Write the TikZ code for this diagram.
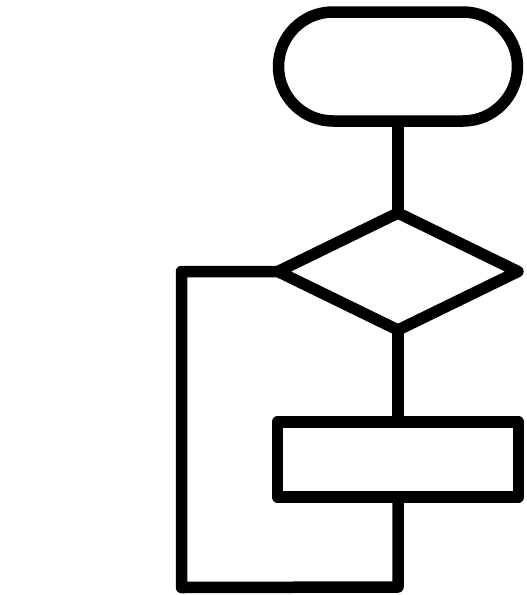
\documentclass[tikz,border=0pt]{standalone}
\usetikzlibrary{positioning,shapes.geometric,shapes.misc}
\tikzset{
  terminal/.style={draw, rounded rectangle, minimum width=239pt, minimum height=109pt,
                   inner sep=0pt, outer sep=0pt},
  decision/.style={draw, diamond, minimum width=240pt, minimum height=117pt,
                   inner sep=0pt, outer sep=0pt},
  process/.style={draw, rectangle, minimum width=241pt, minimum height=75pt,
                  inner sep=0pt, outer sep=0pt},
  flow/.style={draw, line cap=butt},
}

\begin{document}
\begin{tikzpicture}[x=1pt, y=-1pt, line width=11.5pt, line join=round, node distance=92pt]
  \useasboundingbox (0,0) rectangle (527,595);
  \node[terminal] (start) at (398,66.5) {};
  \node[decision, below=of start] (test) {};
  \node[process, below=of test] (work) {};
  \coordinate[below=90pt of work] (down);
  \coordinate (corner) at (181.5,587.5);
  \draw[flow] (start) -- (test);
  \draw[flow] (test) -- (work);
  \draw[flow] (work.south) -- (down) -- (corner) |- (test.west);
\end{tikzpicture}
\end{document}
